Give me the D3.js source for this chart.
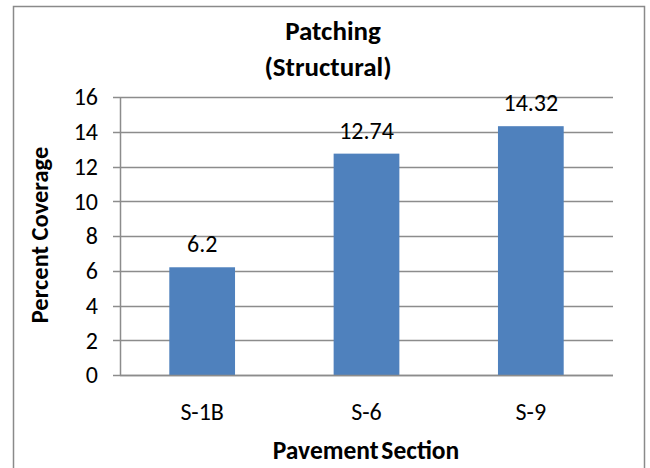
<!DOCTYPE html>
<html><head><meta charset="utf-8">
<script src="https://cdn.jsdelivr.net/npm/d3@7"></script>
<style>
body{margin:0;background:#fff;}
text{font-family:Carlito, Lato, "Open Sans", sans-serif;}
</style></head>
<body>
<svg id="c" width="650" height="468"></svg>
<script>
const categories = ["S-1B", "S-6", "S-9"];
const values = [6.2, 12.74, 14.32];
const valueLabels = ["6.2", "12.74", "14.32"];
const yTicks = [0, 2, 4, 6, 8, 10, 12, 14, 16];

const svg = d3.select("#c");
svg.append("rect").attr("x", 13.5).attr("y", 6.5).attr("width", 631).attr("height", 470)
  .attr("fill", "#fff").attr("stroke", "#8a8a8a").attr("stroke-width", 1.5);

const pLeft = 120, pRight = 613, pTop = 97, pBottom = 375;
const x = d3.scaleBand().domain(categories).range([pLeft, pRight]).paddingInner(0.6).paddingOuter(0.3);
const y = d3.scaleLinear().domain([0, 16]).range([pBottom, pTop]);

// gridlines
svg.append("g").selectAll("line").data(yTicks).join("line")
  .attr("x1", pLeft - 7).attr("x2", pRight)
  .attr("y1", d => Math.round(y(d)) + 0.5).attr("y2", d => Math.round(y(d)) + 0.5)
  .attr("stroke", "#8c8c8c").attr("stroke-width", 1.5);

// y axis line
svg.append("line").attr("x1", pLeft + 0.5).attr("x2", pLeft + 0.5).attr("y1", pTop).attr("y2", pBottom)
  .attr("stroke", "#8c8c8c").attr("stroke-width", 1.5);

// bars
svg.append("g").selectAll("rect").data(values).join("rect")
  .attr("x", (d, i) => x(categories[i])).attr("width", x.bandwidth())
  .attr("y", d => y(d)).attr("height", d => y(0) - y(d))
  .attr("fill", "#4f81bd");

// x axis line drawn over bars
svg.append("line").attr("x1", pLeft).attr("x2", pRight).attr("y1", Math.round(y(0)) + 0.5).attr("y2", Math.round(y(0)) + 0.5)
  .attr("stroke", "#8c8c8c").attr("stroke-width", 1.5);

// y tick labels
svg.append("g").selectAll("text").data(yTicks).join("text")
  .attr("x", 98).attr("y", d => y(d)).attr("dy", "0.35em")
  .attr("text-anchor", "end").attr("font-size", 24).attr("fill", "#000")
  .text(d => d);

// x labels
svg.append("g").selectAll("text").data(categories).join("text")
  .attr("x", d => x(d) + x.bandwidth() / 2).attr("y", 420)
  .attr("text-anchor", "middle").attr("font-size", 24).attr("fill", "#000")
  .text(d => d);

// value labels
svg.append("g").selectAll("text").data(values).join("text")
  .attr("x", (d, i) => x(categories[i]) + x.bandwidth() / 2).attr("y", d => y(d) - 15)
  .attr("text-anchor", "middle").attr("font-size", 24).attr("fill", "#000")
  .text((d, i) => valueLabels[i]);

// title
svg.append("text").attr("x", 333).attr("y", 40).attr("text-anchor", "middle")
  .attr("font-size", 27).attr("font-weight", "bold").text("Patching");
svg.append("text").attr("x", 328).attr("y", 76).attr("text-anchor", "middle")
  .attr("font-size", 27).attr("font-weight", "bold").text("(Structural)");

// axis titles
svg.append("text").attr("transform", "translate(48,235) rotate(-90)").attr("text-anchor", "middle")
  .attr("font-size", 24.5).attr("font-weight", "bold").text("Percent Coverage");
svg.append("text").attr("x", 366).attr("y", 459).attr("text-anchor", "middle")
  .attr("font-size", 25.5).attr("font-weight", "bold").attr("word-spacing", -3).text("Pavement Section");
</script>
</body></html>
